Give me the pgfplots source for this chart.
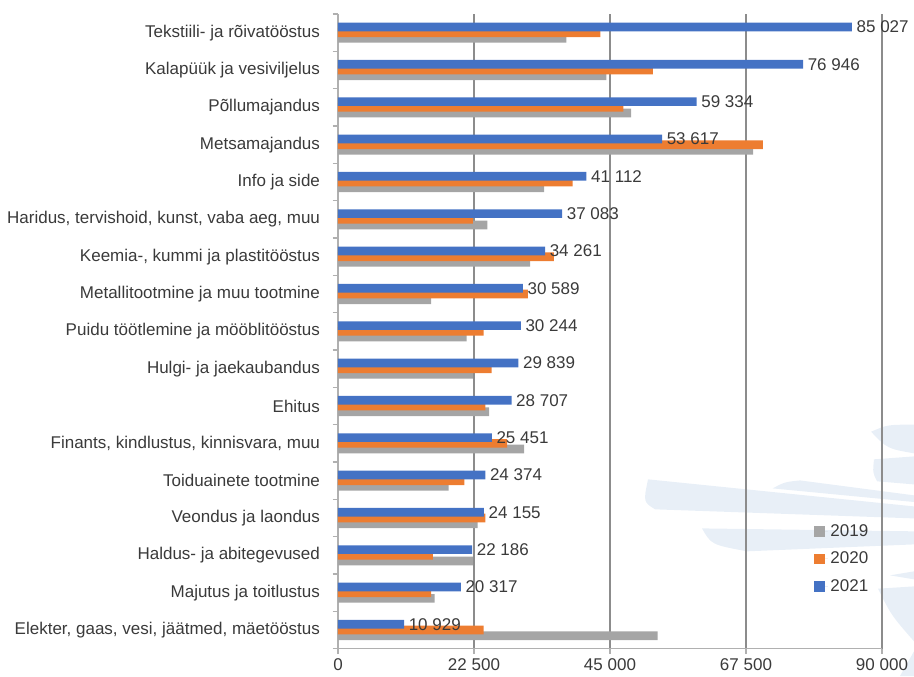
\documentclass[border=0pt]{standalone}
\usepackage{pgfplots}
\pgfplotsset{compat=1.18}
\usepackage{pgfplotstable}
\usepackage{fontspec}
\setmainfont{Liberation Sans}
\definecolor{c19}{HTML}{A5A5A5}
\definecolor{c20}{HTML}{ED7D31}
\definecolor{c21}{HTML}{4472C4}
\definecolor{txt}{HTML}{3A3A3A}
\definecolor{gridc}{HTML}{8C8C8C}
\definecolor{axc}{HTML}{B0B0B0}
\definecolor{wm}{HTML}{E8EFF7}

\pgfplotstableread[col sep=comma]{
y,v19,v20,v21,lab
16,37800,43400,85027,85 027
15,44400,52100,76946,76 946
14,48500,47200,59334,59 334
13,68700,70300,53617,53 617
12,34100,38800,41112,41 112
11,24700,22300,37083,37 083
10,31800,35700,34261,34 261
9,15400,31400,30589,30 589
8,21300,24100,30244,30 244
7,22300,25400,29839,29 839
6,25000,24400,28707,28 707
5,30800,28000,25451,25 451
4,18300,20900,24374,24 374
3,23100,24400,24155,24 155
2,22300,15700,22186,22 186
1,16000,15400,20317,20 317
0,52900,24100,10929,10 929
}\data

\begin{document}
\begin{tikzpicture}
\path[use as bounding box] (-253.5pt,-20.5pt) rectangle (432pt,486.5pt);
% faint background watermark (decorative)
\begin{scope}[wm]
\fill (232.5pt,127pt) -- (432pt,106.7pt) -- (432pt,97.7pt) -- (237.8pt,104.5pt) .. controls (229pt,110pt) .. cycle;
\fill (273pt,90.2pt) -- (432pt,88pt) -- (432pt,78.2pt) -- (306.8pt,73pt) .. controls (280pt,78pt) .. cycle;
\fill (326pt,120.2pt) .. controls (335pt,125pt) .. (346.5pt,126.2pt) -- (432pt,115pt) -- (432pt,110pt) -- cycle;
\fill (402pt,142pt) -- (432pt,144.2pt) -- (432pt,123.2pt) -- (404.3pt,125.5pt) .. controls (401pt,132pt) .. cycle;
\fill (399.8pt,162.7pt) .. controls (412pt,168pt) .. (432pt,168pt) -- (432pt,146.5pt) .. controls (412pt,150pt) .. cycle;
\fill (414pt,55pt) -- (432pt,58pt) -- (432pt,52pt) -- cycle;
\fill (405pt,45pt) -- (432pt,46.7pt) -- (432pt,5.5pt) .. controls (415pt,25pt) .. cycle;
\fill (421.5pt,-20.5pt) -- (432pt,-2pt) -- (432pt,-20.5pt) -- cycle;
\end{scope}
\begin{axis}[
  at={(0,0)}, anchor=south west,
  scale only axis, width=408pt, height=476pt,
  xbar, bar width=6.5pt,
  xmin=0, xmax=90000, ymin=-0.5, ymax=16.5,
  clip=false,
  font=\fontsize{12.75}{15}\selectfont,
  axis x line*=bottom, axis y line*=left,
  axis line style={axc, line width=0.8pt},
  xtick={0,22500,45000,67500,90000},
  xticklabels={0,22 500,45 000,67 500,90 000},
  ytick={0,...,16},
  yticklabels={
    {Elekter, gaas, vesi, jäätmed, mäetööstus},
    {Majutus ja toitlustus},
    {Haldus- ja abitegevused},
    {Veondus ja laondus},
    {Toiduainete tootmine},
    {Finants, kindlustus, kinnisvara, muu},
    {Ehitus},
    {Hulgi- ja jaekaubandus},
    {Puidu töötlemine ja mööblitööstus},
    {Metallitootmine ja muu tootmine},
    {Keemia-, kummi ja plastitööstus},
    {Haridus, tervishoid, kunst, vaba aeg, muu},
    {Info ja side},
    {Metsamajandus},
    {Põllumajandus},
    {Kalapüük ja vesiviljelus},
    {Tekstiili- ja rõivatööstus}},
  minor ytick={-0.5,0.5,...,16.5},
  tick align=outside,
  major tick length=4pt, minor tick length=4pt,
  major y tick style={draw=none},
  minor y tick style={axc, line width=0.8pt},
  major x tick style={axc, line width=0.8pt},
  tick label style={text=txt},
  y tick label style={xshift=-6pt},
  x tick label style={yshift=-3.5pt, inner sep=0pt},
  xmajorgrids, major grid style={gridc, line width=0.8pt},
  legend style={at={(0.868,0.205)}, anchor=north west, draw=none, fill=none,
    text=txt, font=\fontsize{12.75}{15}\selectfont, row sep=6.5pt},
  legend cell align=left,
  legend image code/.code={\fill[#1] (0pt,-4.1pt) rectangle (8.2pt,4.1pt); \path (0pt,0pt) -- (10pt,0pt);},
]
\addplot[fill=c19, draw=none, bar shift=-4.3pt] table[x=v19, y=y] {\data};
\addplot[fill=c20, draw=none, bar shift=0pt] table[x=v20, y=y] {\data};
\addplot[fill=c21, draw=none, bar shift=4.3pt,
  point meta=explicit symbolic,
  nodes near coords,
  every node near coord/.append style={text=txt, anchor=west, font=\fontsize{12.75}{15}\selectfont}]
  table[x=v21, y=y, meta=lab] {\data};
\legend{2019,2020,2021}
\end{axis}
\end{tikzpicture}
\end{document}
